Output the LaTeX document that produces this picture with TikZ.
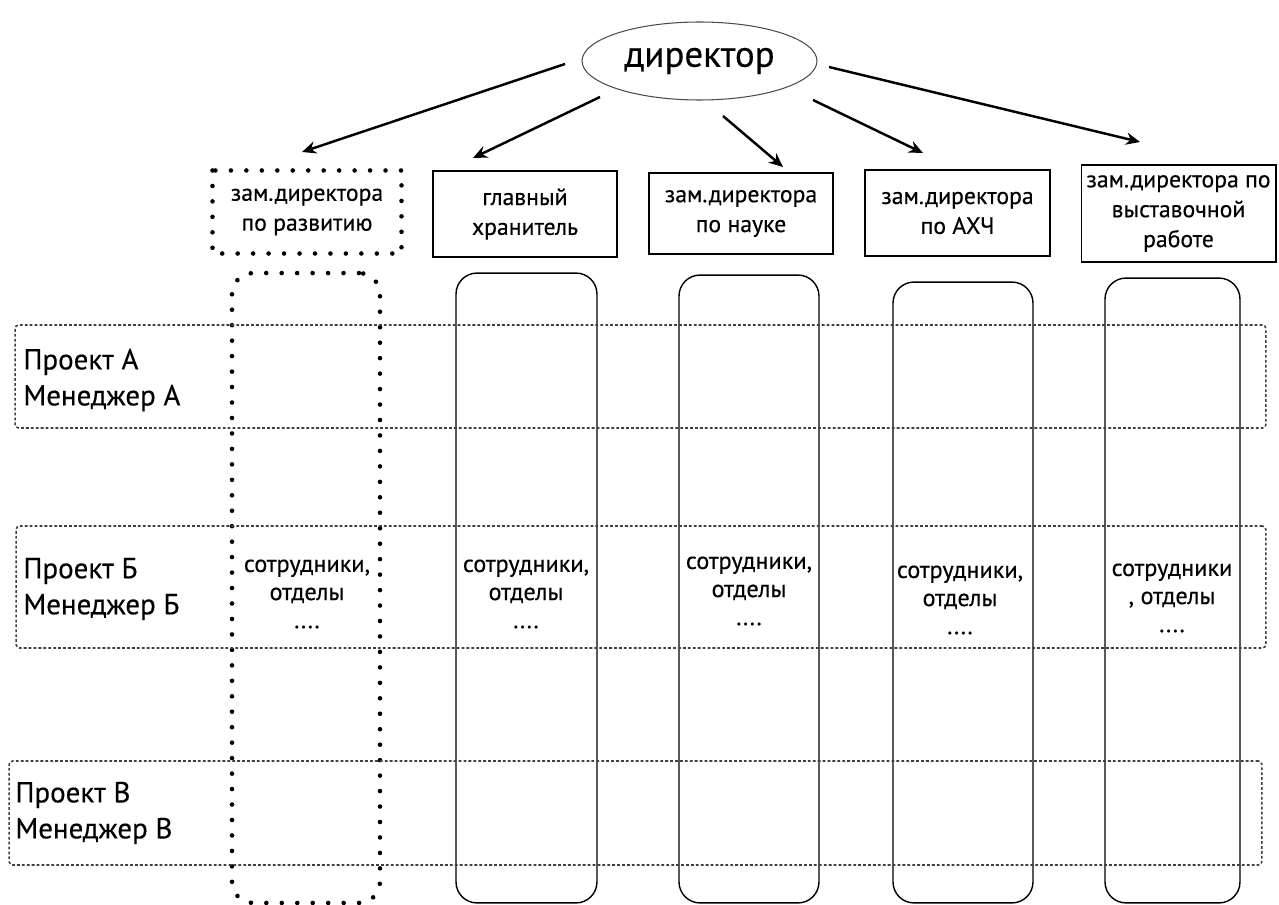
\documentclass[tikz,border=0pt]{standalone}
\usepackage{fontspec}
\setmainfont{PT Sans}[FakeBold=0.35]
\usetikzlibrary{shapes.geometric,arrows.meta}

\begin{document}
\begin{tikzpicture}[x=0.02cm, y=-0.02cm,
    dirnode/.style={ellipse, draw=black!70, line width=0.6pt, minimum width=4.7cm, minimum height=1.56cm, inner sep=0pt, font=\fontsize{21}{25}\selectfont},
    posbox/.style={draw, line width=0.6pt, align=center, inner sep=0pt, font=\fontsize{13.5}{17}\selectfont},
    dotbox/.style={posbox, draw=none},
    bigdots/.style={draw, line width=2.6pt, dash pattern=on 0pt off 8.8pt, line cap=round},
    colbox/.style={draw, line width=0.8pt, rounded corners=0.42cm, inner sep=0pt},
    rowbox/.style={draw=black!75, line width=0.9pt, dash pattern=on 1.6pt off 1.2pt, rounded corners=2pt, inner sep=0pt},
    rowtext/.style={anchor=west, align=left, inner sep=0pt, font=\fontsize{16.5}{20.5}\selectfont},
    stafftext/.style={align=center, inner sep=0pt, font=\fontsize{13.8}{16}\selectfont},
    arr/.style={-{Stealth[length=8pt,width=7pt]}, line width=1.4pt}]

    \useasboundingbox (0,0) rectangle (1279,905);

    % columns
    \node[colbox, bigdots, minimum width=2.96cm, minimum height=12.6cm] (col1) at (306,588) {};
    \node[colbox, minimum width=2.82cm, minimum height=12.6cm] (col2) at (526.5,588) {};
    \node[colbox, minimum width=2.8cm, minimum height=12.56cm] (col3) at (749,589) {};
    \node[colbox, minimum width=2.8cm, minimum height=12.42cm] (col4) at (963,592.5) {};
    \node[colbox, minimum width=2.7cm, minimum height=12.5cm] (col5) at (1172.5,590.5) {};

    % project rows
    \node[rowbox, minimum width=25.02cm, minimum height=2.06cm] (rowA) at (640.5,376.5) {};
    \node[rowbox, minimum width=25.0cm, minimum height=2.44cm] (rowB) at (641,587) {};
    \node[rowbox, minimum width=25.06cm, minimum height=2.08cm] (rowC) at (635.5,813) {};

    \node[rowtext] (projA) at (23,380) {Проект А\\Менеджер А};
    \node[rowtext] (projB) at (23,589) {Проект Б\\Менеджер Б};
    \node[rowtext] (projC) at (15,813) {Проект В\\Менеджер В};

    % staff
    \node[stafftext] (staff1) at (307,594) {сотрудники,\\отделы\\....};
    \node[stafftext] (staff2) at (526,594) {сотрудники,\\отделы\\....};
    \node[stafftext] (staff3) at (749,591) {сотрудники,\\отделы\\....};
    \node[stafftext] (staff4) at (960,600) {сотрудники,\\отделы\\....};
    \node[stafftext] (staff5) at (1172,598) {сотрудники\\, отделы\\....};

    % top
    \node[dirnode] (dir) at (699.5,61) {директор};

    \node[dotbox, minimum width=3.76cm, minimum height=1.64cm] (dep1) at (307,212) {зам.директора\\по развитию};
    \draw[bigdots] (dep1.north west) rectangle (dep1.south east);
    \node[posbox, minimum width=3.68cm, minimum height=1.72cm] (dep2) at (525,214) {главный\\хранитель};
    \node[posbox, minimum width=3.68cm, minimum height=1.62cm] (dep3) at (741,213.5) {зам.директора\\по науке};
    \node[posbox, minimum width=3.7cm, minimum height=1.72cm] (dep4) at (957.5,213) {зам.директора\\по АХЧ};
    \node[posbox, minimum width=3.9cm, minimum height=1.94cm] (dep5) at (1178.5,213.5) {зам.директора по\\выставочной\\работе};

    % arrows
    \coordinate (s1) at (565,64);   \coordinate (e1) at (302,152);
    \coordinate (s2) at (600,97);   \coordinate (e2) at (473,158);
    \coordinate (s3) at (723,116);  \coordinate (e3) at (783,167);
    \coordinate (s4) at (813,100);  \coordinate (e4) at (923,153);
    \coordinate (s5) at (829,67);   \coordinate (e5) at (1140,142);
    \foreach \i in {1,...,5}
        \draw[arr] (s\i) -- (e\i);

\end{tikzpicture}
\end{document}
